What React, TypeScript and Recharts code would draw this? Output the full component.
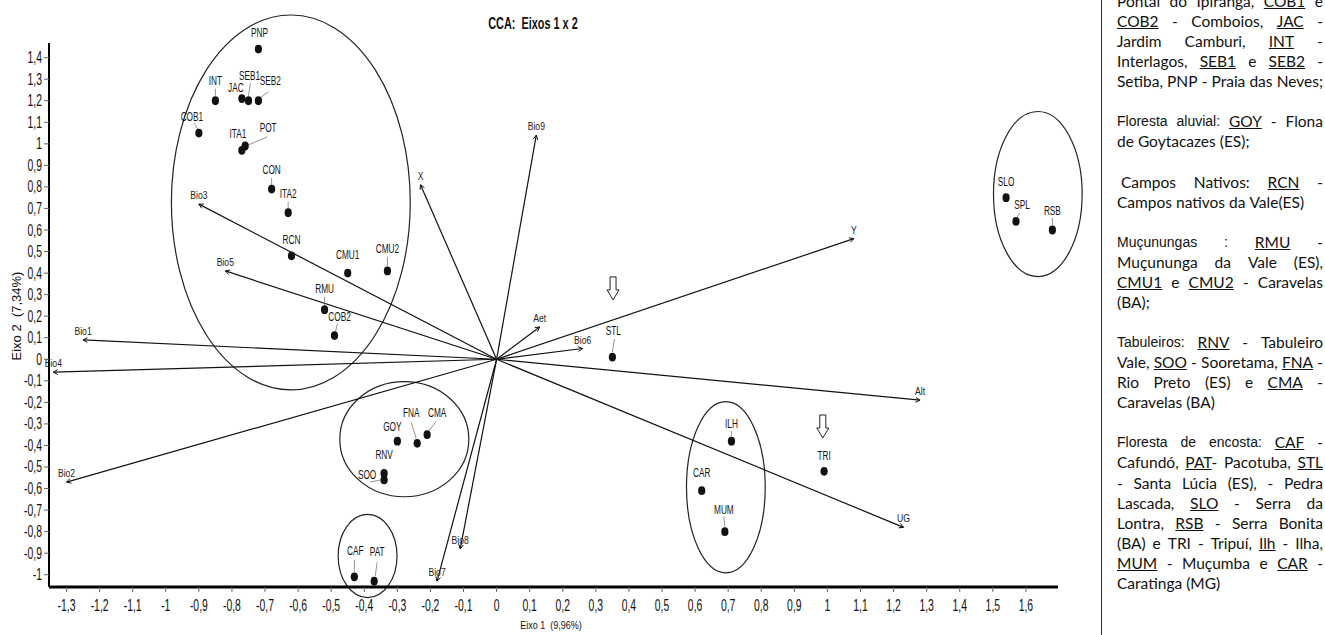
import React from 'react';
import {
  ScatterChart,
  Scatter,
  XAxis,
  YAxis,
  ReferenceLine,
  ReferenceArea,
  ReferenceDot,
} from 'recharts';

// sites (scores on axes 1 and 2)
const siteNames = [
  'PNP', 'INT', 'JAC', 'SEB1', 'SEB2', 'COB1', 'ITA1', 'POT', 'CON', 'ITA2',
  'RCN', 'CMU1', 'CMU2', 'RMU', 'COB2', 'GOY', 'FNA', 'CMA', 'RNV', 'SOO',
  'CAF', 'PAT', 'STL', 'ILH', 'CAR', 'MUM', 'TRI', 'SLO', 'SPL', 'RSB',
];
const siteAxis1 = [
  -0.72, -0.85, -0.77, -0.75, -0.72, -0.9, -0.77, -0.76, -0.68, -0.63,
  -0.62, -0.45, -0.33, -0.52, -0.49, -0.3, -0.24, -0.21, -0.34, -0.34,
  -0.43, -0.37, 0.35, 0.71, 0.62, 0.69, 0.99, 1.54, 1.57, 1.68,
];
const siteAxis2 = [
  1.44, 1.2, 1.21, 1.2, 1.2, 1.05, 0.97, 0.99, 0.79, 0.68,
  0.48, 0.4, 0.41, 0.23, 0.11, -0.38, -0.39, -0.35, -0.53, -0.56,
  -1.01, -1.03, 0.01, -0.38, -0.61, -0.8, -0.52, 0.75, 0.64, 0.6,
];

// environmental vectors
const vectorNames = ['Bio1', 'Bio2', 'Bio3', 'Bio4', 'Bio5', 'Bio6', 'Bio7', 'Bio8', 'Bio9', 'Aet', 'X', 'Y', 'Alt', 'UG'];
const vectorAxis1 = [-1.25, -1.3, -0.9, -1.34, -0.82, 0.26, -0.18, -0.11, 0.12, 0.13, -0.23, 1.08, 1.28, 1.23];
const vectorAxis2 = [0.09, -0.57, 0.72, -0.06, 0.41, 0.05, -1.03, -0.88, 1.04, 0.15, 0.81, 0.56, -0.19, -0.78];

// group ellipses (centre and half axes)
const groupCenter1 = [-0.622, -0.279, -0.39, 0.693, 1.636];
const groupCenter2 = [0.728, -0.371, -0.913, -0.594, 0.767];
const groupRadius1 = [0.361, 0.195, 0.089, 0.119, 0.134];
const groupRadius2 = [0.87, 0.267, 0.193, 0.397, 0.383];

// hollow arrows pointing at STL and TRI
const highlightAxis1 = [0.352, 0.986];
const highlightAxis2 = [0.329, -0.312];

const xTicks = [
  -1.3, -1.2, -1.1, -1, -0.9, -0.8, -0.7, -0.6, -0.5, -0.4, -0.3, -0.2, -0.1, 0,
  0.1, 0.2, 0.3, 0.4, 0.5, 0.6, 0.7, 0.8, 0.9, 1, 1.1, 1.2, 1.3, 1.4, 1.5, 1.6,
];
const yTicks = [
  -1, -0.9, -0.8, -0.7, -0.6, -0.5, -0.4, -0.3, -0.2, -0.1, 0,
  0.1, 0.2, 0.3, 0.4, 0.5, 0.6, 0.7, 0.8, 0.9, 1, 1.1, 1.2, 1.3, 1.4,
];

const sites = siteNames.map((name, i) => ({ name, x: siteAxis1[i], y: siteAxis2[i] }));

// label placement (pixels, relative to the point)
const siteLabel: Record<string, { dx: number; dy: number; lead?: number[] }> = {
  PNP: { dx: 1, dy: -12 },
  INT: { dx: 0, dy: -16, lead: [0, -12, 0, -5] },
  JAC: { dx: -6, dy: -7 },
  SEB1: { dx: 1, dy: -21, lead: [2, -18, 0, -5] },
  SEB2: { dx: 12, dy: -16, lead: [10, -9, 2, -3] },
  COB1: { dx: -7, dy: -12, lead: [-5, -10, -1, -4] },
  ITA1: { dx: -4, dy: -12 },
  POT: { dx: 23, dy: -14, lead: [22, -9, 3, -1] },
  CON: { dx: 0, dy: -15, lead: [0, -11, 0, -4] },
  ITA2: { dx: 0, dy: -15, lead: [0, -11, 0, -4] },
  RCN: { dx: 0, dy: -12 },
  CMU1: { dx: 0, dy: -14 },
  CMU2: { dx: 0, dy: -18, lead: [0, -14, 0, -5] },
  RMU: { dx: 0, dy: -17, lead: [0, -13, 0, -5] },
  COB2: { dx: 5, dy: -15, lead: [3, -12, 1, -4] },
  GOY: { dx: -5, dy: -10 },
  FNA: { dx: -6, dy: -26, lead: [-6, -21, -1, -5] },
  CMA: { dx: 10, dy: -18, lead: [9, -13, 1, -3] },
  RNV: { dx: 0, dy: -14 },
  SOO: { dx: -17, dy: -1, lead: [-14, 2, -3, 0] },
  CAF: { dx: 1, dy: -22, lead: [0, -17, 0, -5] },
  PAT: { dx: 3, dy: -25, lead: [3, -19, 1, -5] },
  STL: { dx: 1, dy: -22, lead: [2, -18, 0, -5] },
  ILH: { dx: 0, dy: -13, lead: [0, -10, 0, -5] },
  CAR: { dx: 0, dy: -14 },
  MUM: { dx: -1, dy: -18, lead: [-1, -15, 0, -5] },
  TRI: { dx: 0, dy: -11 },
  SLO: { dx: 0, dy: -12 },
  SPL: { dx: 6, dy: -12, lead: [4, -9, 1, -4] },
  RSB: { dx: 0, dy: -15, lead: [0, -12, 0, -5] },
};

const ARIAL = "'Liberation Sans', Arial, sans-serif";

function NarrowText({ x, y, children, size = 12, sx = 0.68, anchor = 'middle', weight = 'normal', fill = '#111', rotate = 0 }: any) {
  return (
    <text
      transform={`translate(${x},${y}) rotate(${rotate}) scale(${sx},1)`}
      textAnchor={anchor}
      fontSize={size}
      fontFamily={ARIAL}
      fontWeight={weight}
      fill={fill}
      style={{ whiteSpace: 'pre' }}
    >
      {children}
    </text>
  );
}

const fmt = (v: number) => String(v).replace('.', ',');

const XTick = (p: any) => (
  <NarrowText x={p.x} y={p.y + 17} size={16} sx={0.65}>{fmt(p.payload.value)}</NarrowText>
);
const YTick = (p: any) => (
  <NarrowText x={p.x} y={p.y + 5.5} size={16} sx={0.65} anchor="end">{fmt(p.payload.value)}</NarrowText>
);

const SiteShape = (p: any) => {
  const { cx, cy, payload } = p;
  const s = siteLabel[payload.name] || { dx: 0, dy: -12 };
  return (
    <g>
      {s.lead && (
        <line x1={cx + s.lead[0]} y1={cy + s.lead[1]} x2={cx + s.lead[2]} y2={cy + s.lead[3]} stroke="#777" strokeWidth={0.8} />
      )}
      <ellipse cx={cx} cy={cy} rx={3.6} ry={4.4} fill="#111" />
      <NarrowText x={cx + s.dx} y={cy + s.dy} size={12.5} sx={0.66}>{payload.name}</NarrowText>
    </g>
  );
};

const vectorShape = (name: string) => (p: any) => {
  const { x1, y1, x2, y2 } = p;
  const a = Math.atan2(y2 - y1, x2 - x1);
  const h = 5;
  const w = 0.5;
  const ax = x2 - h * Math.cos(a - w);
  const ay = y2 - h * Math.sin(a - w);
  const bx = x2 - h * Math.cos(a + w);
  const by = y2 - h * Math.sin(a + w);
  return (
    <g>
      <line x1={x1} y1={y1} x2={x2} y2={y2} stroke="#111" strokeWidth={1.2} />
      <polyline points={`${ax},${ay} ${x2},${y2} ${bx},${by}`} fill="none" stroke="#111" strokeWidth={1} />
      <NarrowText x={x2} y={y2 - 5} size={11.5} sx={0.75} fill="#222">{name}</NarrowText>
    </g>
  );
};

const EllipseShape = (p: any) => (
  <ellipse
    cx={p.x + p.width / 2}
    cy={p.y + p.height / 2}
    rx={Math.abs(p.width) / 2}
    ry={Math.abs(p.height) / 2}
    fill="none"
    stroke="#222"
    strokeWidth={1.2}
  />
);

const HollowArrow = (p: any) => {
  const { cx, cy } = p;
  const d = `M${cx - 3},${cy - 11.5} L${cx + 3},${cy - 11.5} L${cx + 3},${cy + 1.5} L${cx + 6},${cy + 1.5} L${cx},${cy + 11.5} L${cx - 6},${cy + 1.5} L${cx - 3},${cy + 1.5} Z`;
  return <path d={d} fill="#fff" stroke="#222" strokeWidth={1} />;
};

const panelLines: ({ t: string; j: boolean; indent?: boolean } | null)[] = [
  { t: 'Pontal do Ipiranga, _COB1_ e', j: true },
  { t: '_COB2_ - Comboios, _JAC_ -', j: true },
  { t: 'Jardim Camburi, _INT_ -', j: true },
  { t: 'Interlagos, _SEB1_ e _SEB2_ -', j: true },
  { t: 'Setiba, PNP - Praia das Neves;', j: true },
  null,
  { t: '^Floresta ^aluvial: _GOY_ - Flona', j: true },
  { t: 'de Goytacazes (ES);', j: false },
  null,
  { t: 'Campos Nativos: _RCN_ -', j: true, indent: true },
  { t: 'Campos nativos da Vale(ES)', j: false },
  null,
  { t: '^Muçunungas ^: _RMU_ -', j: true },
  { t: 'Muçununga da Vale (ES),', j: true },
  { t: '_CMU1_ e _CMU2_ - Caravelas', j: true },
  { t: '(BA);', j: false },
  null,
  { t: '^Tabuleiros: _RNV_ - Tabuleiro', j: true },
  { t: 'Vale, _SOO_ - Sooretama, _FNA_ -', j: true },
  { t: 'Rio Preto (ES) e _CMA_ -', j: true },
  { t: 'Caravelas (BA)', j: false },
  null,
  { t: '^Floresta ^de ^encosta: _CAF_ -', j: true },
  { t: 'Cafundó, _PAT_- Pacotuba, _STL_', j: true },
  { t: '- Santa Lúcia (ES), - Pedra', j: true },
  { t: 'Lascada, _SLO_ - Serra da', j: true },
  { t: 'Lontra, _RSB_ - Serra Bonita', j: true },
  { t: '(BA) e TRI - Tripuí, _Ilh_ - Ilha,', j: true },
  { t: '_MUM_ - Muçumba e _CAR_ -', j: true },
  { t: 'Caratinga (MG)', j: false },
];

function Word({ w }: { w: string }) {
  if (w.startsWith('^')) {
    return <span style={{ fontFamily: ARIAL, fontSize: 14 }}>{w.slice(1)}</span>;
  }
  const m = w.match(/^_(.+?)_(.*)$/);
  if (m) {
    return (
      <span>
        <u>{m[1]}</u>
        {m[2]}
      </span>
    );
  }
  return <span>{w}</span>;
}

function Panel() {
  const lh = 20.07;
  return (
    <div
      style={{
        position: 'absolute',
        left: 1101,
        top: 0,
        width: 224,
        height: 635,
        borderLeft: '1.5px solid #333',
        overflow: 'hidden',
      }}
    >
      <div style={{ position: 'absolute', left: 15, top: -9, width: 206, fontFamily: 'Lato, sans-serif', fontSize: 15.5, color: '#111' }}>
        {panelLines.map((l, i) => {
          if (!l) return <div key={i} style={{ height: lh }} />;
          const words = l.t.split(' ').filter(Boolean);
          return (
            <div
              key={i}
              style={{
                height: lh,
                lineHeight: `${lh}px`,
                whiteSpace: 'nowrap',
                display: 'flex',
                justifyContent: l.j ? 'space-between' : 'flex-start',
                gap: l.j ? 0 : 4,
                paddingLeft: l.indent ? 4 : 0,
              }}
            >
              {words.map((w, k) => (
                <Word key={k} w={w} />
              ))}
            </div>
          );
        })}
      </div>
    </div>
  );
}

export default function App() {
  return (
    <div style={{ position: 'fixed', left: 0, top: 0, width: 1325, height: 635, background: '#fff', overflow: 'hidden' }}>
      <div
        style={{
          position: 'absolute',
          left: 533,
          top: 16,
          lineHeight: '16px',
          fontFamily: ARIAL,
          fontWeight: 'bold',
          fontSize: 16,
          color: '#111',
          whiteSpace: 'pre',
          transform: 'translateX(-50%) scaleX(0.68)',
        }}
      >
        CCA:  Eixos 1 x 2
      </div>
      <ScatterChart width={1100} height={635} margin={{ top: 43, right: 42, bottom: 18, left: 8 }}>
        <XAxis
          type="number"
          dataKey="x"
          domain={[-1.353, 1.697]}
          ticks={xTicks}
          interval={0}
          height={30}
          tickSize={5}
          tickMargin={2}
          axisLine={{ stroke: '#000', strokeWidth: 3 }}
          tickLine={{ stroke: '#666' }}
          tick={<XTick />}
          label={() => (
            <NarrowText x={551} y={629} size={11} sx={0.82}>Eixo 1  (9,96%)</NarrowText>
          )}
        />
        <YAxis
          type="number"
          dataKey="y"
          domain={[-1.057, 1.468]}
          ticks={yTicks}
          interval={0}
          width={41}
          tickSize={5}
          tickMargin={2}
          axisLine={{ stroke: '#000', strokeWidth: 2 }}
          tickLine={{ stroke: '#666' }}
          tick={<YTick />}
          label={() => (
            <NarrowText x={21} y={316} size={13} sx={1} rotate={-90}>Eixo 2  (7,34%)</NarrowText>
          )}
        />
        {groupCenter1.map((c, i) => (
          <ReferenceArea
            key={`g${i}`}
            x1={c - groupRadius1[i]}
            x2={c + groupRadius1[i]}
            y1={groupCenter2[i] - groupRadius2[i]}
            y2={groupCenter2[i] + groupRadius2[i]}
            ifOverflow="visible"
            shape={EllipseShape}
          />
        ))}
        {vectorNames.map((n, i) => (
          <ReferenceLine
            key={n}
            segment={[{ x: 0, y: 0 }, { x: vectorAxis1[i], y: vectorAxis2[i] }]}
            ifOverflow="visible"
            shape={vectorShape(n)}
          />
        ))}
        {highlightAxis1.map((hx, i) => (
          <ReferenceDot key={`h${i}`} x={hx} y={highlightAxis2[i]} ifOverflow="visible" shape={HollowArrow} />
        ))}
        <Scatter data={sites} shape={SiteShape} isAnimationActive={false} />
      </ScatterChart>
      <Panel />
    </div>
  );
}
